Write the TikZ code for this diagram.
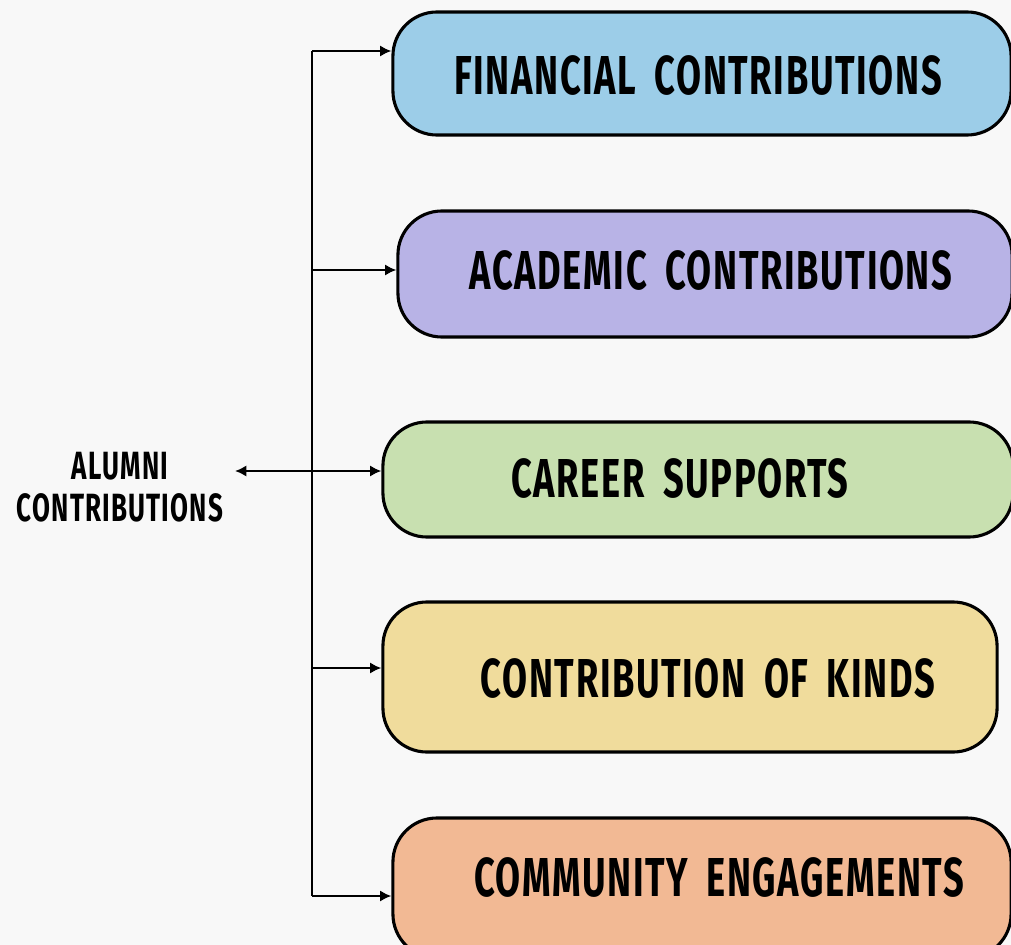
\documentclass[tikz,border=0pt]{standalone}
\usepackage{fontspec}
\usepackage{tikz}
\usetikzlibrary{arrows.meta}
\newfontfamily\handfont[FakeStretch=0.66, LetterSpace=3, WordSpace=1.8]{Fira Sans}

\definecolor{bgcol}{HTML}{F8F8F8}
\definecolor{finblue}{HTML}{9CCDE8}
\definecolor{acadpurple}{HTML}{B8B3E6}
\definecolor{careergreen}{HTML}{C8E0B0}
\definecolor{kindsyellow}{HTML}{F0DC9C}
\definecolor{commpeach}{HTML}{F2B994}

\tikzset{
	box/.style={draw=black, line width=2.2pt, rounded corners=1.1cm, inner sep=0pt},
	boxtext/.style={font=\handfont\bfseries\fontsize{39}{44}\selectfont, inner sep=0pt},
	linkline/.style={line width=2pt},
	linkarrow/.style={linkline, -{Latex[length=8pt,width=8pt]}},
	botharrow/.style={linkline, {Latex[length=8pt,width=8pt]}-{Latex[length=8pt,width=8pt]}}
}

\begin{document}
\begin{tikzpicture}[x=0.025cm, y=-0.025cm]
		% Frame and background
		\clip (0,0) rectangle (1011,945);
		\fill[bgcol] (0,0) rectangle (1011,945);

		% Boxes
		\node[box, fill=finblue, minimum width=15.45cm, minimum height=3.075cm] (fin) at (702,73.5) {};
		\node[box, fill=acadpurple, minimum width=15.35cm, minimum height=3.15cm] (acad) at (705,274) {};
		\node[box, fill=careergreen, minimum width=15.75cm, minimum height=2.875cm] (career) at (698,479.5) {};
		\node[box, fill=kindsyellow, minimum width=15.35cm, minimum height=3.75cm] (kinds) at (690,677) {};
		\node[box, fill=commpeach, minimum width=15.45cm, minimum height=3.5cm] (comm) at (702,888) {};

		% Box texts
		\node[boxtext] (fintext) at (698,76) {FINANCIAL CONTRIBUTIONS};
		\node[boxtext] (acadtext) at (711,270) {ACADEMIC CONTRIBUTIONS};
		\node[boxtext] (careertext) at (680,478) {CAREER SUPPORTS};
		\node[boxtext] (kindstext) at (708,678) {CONTRIBUTION OF KINDS};
		\node[boxtext] (commtext) at (719,877) {COMMUNITY ENGAGEMENTS};

		% Left label
		\node[font=\handfont\bfseries\fontsize{28}{30}\selectfont, align=center, inner sep=0pt] (alumni) at (120,487) {ALUMNI\\CONTRIBUTIONS};

		% Trunk and branches
		\coordinate (top) at (312,51);
		\coordinate (bot) at (312,896);
		\coordinate (mid) at (312,471);
		\coordinate (left) at (235,471);
		\draw[linkline] (top) -- (bot);
		\draw[linkarrow] (top) -- (fin.west |- top);
		\draw[linkarrow] (312,270) -- (acad.west |- 0,270);
		\draw[botharrow] (left) -- (career.west |- mid);
		\draw[linkarrow] (312,668) -- (kinds.west |- 0,668);
		\draw[linkarrow] (bot) -- (comm.west |- bot);
	\end{tikzpicture}
\end{document}
